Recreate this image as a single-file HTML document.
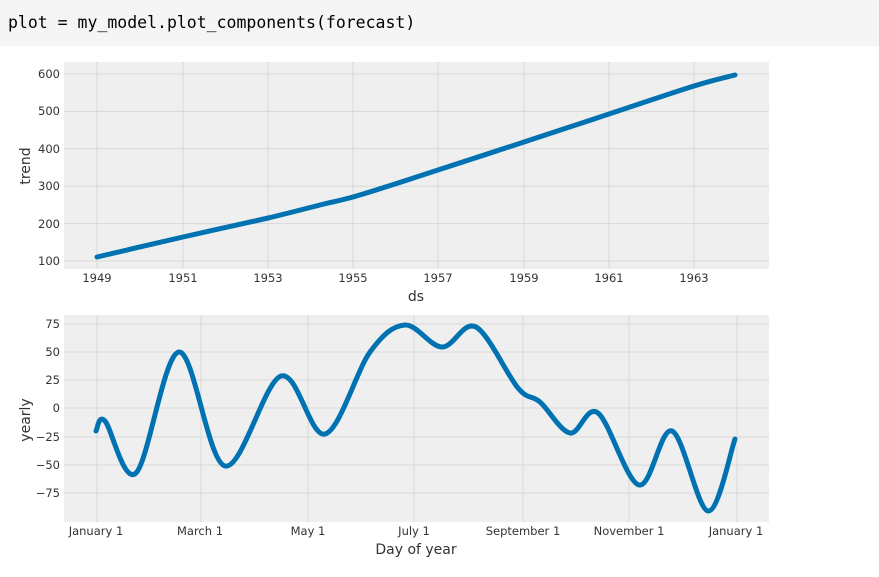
<!DOCTYPE html>
<html><head><meta charset="utf-8"><style>
body{margin:0;width:879px;height:577px;background:#fff;overflow:hidden;font-family:"DejaVu Sans","Liberation Sans",sans-serif}
#code{position:absolute;left:0;top:0;width:879px;height:46px;background:#f5f5f5}
#code span{position:absolute;left:8px;top:13px;font-family:"DejaVu Sans Mono","Liberation Mono",monospace;font-size:16.5px;color:#000}
svg{position:absolute;left:0;top:0}
</style></head><body>
<div id="code"><span>plot = my_model.plot_components(forecast)</span></div>
<svg width="879" height="577" id="s">
<g font-size="11.5" fill="#333">
<rect x="64" y="62" width="705" height="207" fill="#efefef"/>
<g stroke="#d8d8d8" stroke-width="1">
<line x1="64" x2="769" y1="74" y2="74"/><line x1="64" x2="769" y1="111.4" y2="111.4"/><line x1="64" x2="769" y1="148.8" y2="148.8"/><line x1="64" x2="769" y1="186.2" y2="186.2"/><line x1="64" x2="769" y1="223.6" y2="223.6"/><line x1="64" x2="769" y1="261" y2="261"/>
<line y1="62" y2="269" x1="97" x2="97"/><line y1="62" y2="269" x1="183" x2="183"/><line y1="62" y2="269" x1="268" x2="268"/><line y1="62" y2="269" x1="353" x2="353"/><line y1="62" y2="269" x1="438" x2="438"/><line y1="62" y2="269" x1="524" x2="524"/><line y1="62" y2="269" x1="609" x2="609"/><line y1="62" y2="269" x1="694" x2="694"/>
</g>
<g text-anchor="end"><text x="60" y="78">600</text><text x="60" y="115">500</text><text x="60" y="153">400</text><text x="60" y="190">300</text><text x="60" y="228">200</text><text x="60" y="265">100</text></g>
<g text-anchor="middle"><text x="97" y="282">1949</text><text x="183" y="282">1951</text><text x="268" y="282">1953</text><text x="353" y="282">1955</text><text x="438" y="282">1957</text><text x="524" y="282">1959</text><text x="609" y="282">1961</text><text x="694" y="282">1963</text></g>
<text x="416" y="301" font-size="14" text-anchor="middle">ds</text>
<text transform="translate(30,166) rotate(-90)" font-size="14" text-anchor="middle">trend</text>
<path id="tp" fill="none" stroke="#0072b2" stroke-width="5" stroke-linejoin="round" stroke-linecap="round"/>

<rect x="64" y="315" width="705" height="207" fill="#efefef"/>
<g stroke="#d8d8d8" stroke-width="1">
<line x1="64" x2="769" y1="324" y2="324"/><line x1="64" x2="769" y1="352" y2="352"/><line x1="64" x2="769" y1="380" y2="380"/><line x1="64" x2="769" y1="408" y2="408"/><line x1="64" x2="769" y1="437" y2="437"/><line x1="64" x2="769" y1="465" y2="465"/><line x1="64" x2="769" y1="493" y2="493"/>
<line y1="315" y2="522" x1="97" x2="97"/><line y1="315" y2="522" x1="201" x2="201"/><line y1="315" y2="522" x1="308" x2="308"/><line y1="315" y2="522" x1="414" x2="414"/><line y1="315" y2="522" x1="523" x2="523"/><line y1="315" y2="522" x1="629" x2="629"/><line y1="315" y2="522" x1="737" x2="737"/>
</g>
<g text-anchor="end"><text x="60" y="328">75</text><text x="60" y="356">50</text><text x="60" y="384">25</text><text x="60" y="412">0</text><text x="60" y="441">−25</text><text x="60" y="469">−50</text><text x="60" y="497">−75</text></g>
<g text-anchor="middle"><text x="96" y="535">January 1</text><text x="200" y="535">March 1</text><text x="308" y="535">May 1</text><text x="414" y="535">July 1</text><text x="523" y="535">September 1</text><text x="629" y="535">November 1</text><text x="736" y="535">January 1</text></g>
<text x="416" y="554" font-size="14" text-anchor="middle">Day of year</text>
<text transform="translate(30,420) rotate(-90)" font-size="14" text-anchor="middle">yearly</text>
<path id="yp" fill="none" stroke="#0072b2" stroke-width="5" stroke-linejoin="round" stroke-linecap="round"/>
</g>
</svg>
<script>
function cr(p){var d="M"+p[0];
for(var i=0;i<p.length-1;i++){var a=p[i-1]||p[i],b=p[i],c=p[i+1],e=p[i+2]||c;
d+=" C"+(b[0]+(c[0]-a[0])/6)+","+(b[1]+(c[1]-a[1])/6)+" "+(c[0]-(e[0]-b[0])/6)+","+(c[1]-(e[1]-b[1])/6)+" "+c;}return d;}
document.getElementById("yp").setAttribute("d",cr([[96,431],[105,421],[136,473],[179,352],[225,466],[281,376],[325,434],[370,352],[405,325],[442,347],[476,327],[518,388],[540,402],[570,433],[598,413],[639,485],[672,431],[708,511],[735,439]]));
document.getElementById("tp").setAttribute("d",cr([[97,257],[183,237],[268,218],[320,205],[353,197],[395,184],[438,170],[524,142],[609,114],[694,86],[735,75]]));
</script>
</body></html>
